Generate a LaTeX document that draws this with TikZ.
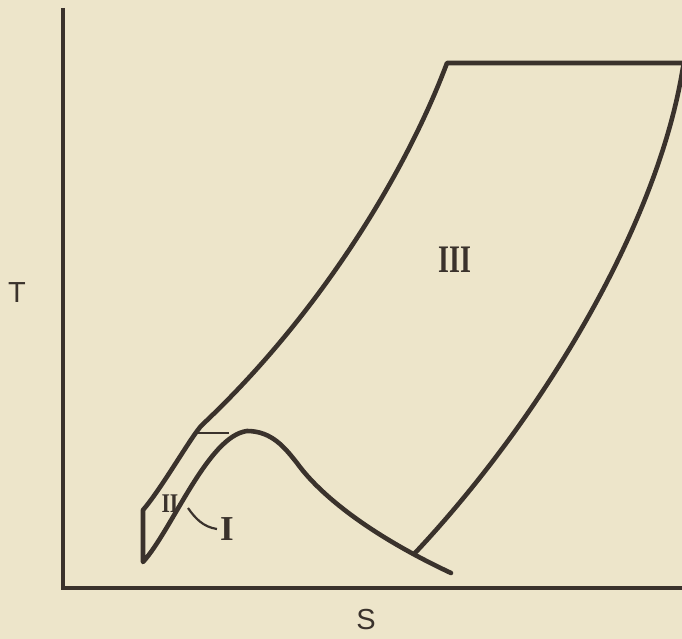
\documentclass[tikz,border=0pt]{standalone}
\usepackage{fontspec}
\setmainfont{Liberation Serif}
\setsansfont{Liberation Sans}
\usepackage{graphicx}
\definecolor{paper}{RGB}{237,229,202}
\definecolor{ink}{RGB}{58,50,44}

\begin{document}
\begin{tikzpicture}[
  x=1pt,y=-1pt,
  curve/.style={ink,line width=4.6pt,line join=round,line cap=round},
  axis/.style={ink,line width=3.6pt},
  thinline/.style={ink,line width=1.8pt},
  roman/.style={ink,font=\bfseries\fontsize{#1}{#1}\selectfont,inner sep=0pt},
  axlabel/.style={ink,font=\sffamily\fontsize{29}{29}\selectfont,inner sep=0pt}
]
\fill[paper] (0,0) rectangle (682,639);
\useasboundingbox (0,0) rectangle (682,639);

\coordinate (origin) at (63,588);
\coordinate (ytop) at (63,8);
\coordinate (xend) at (684,588);
\draw[axis] (ytop) -- (origin) -- (xend);

\coordinate (corner) at (447,63);
\coordinate (bend) at (202,425);
\coordinate (knee) at (143,510);
\coordinate (foot) at (143,562);
\coordinate (peak) at (247,431);
\coordinate (slope) at (297,463);
\coordinate (junction) at (415,553);
\coordinate (tail) at (451,573);
\coordinate (flashL) at (196,433);
\coordinate (flashR) at (229,433);
\coordinate (pointI) at (188,508);

\draw[curve] (686,63) -- (corner)
  .. controls (405,175) and (318,316) .. (bend)
  .. controls (192,435) and (162,488) .. (knee)
  -- (foot)
  .. controls (172,530) and (208,436) .. (peak)
  .. controls (272,431) and (285,448) .. (slope)
  .. controls (320,495) and (370,535) .. (tail);
\draw[curve] (684,62) -- (682,73) .. controls (655,230) and (540,420) .. (junction);
\draw[thinline] (flashL) -- (flashR);

\node[roman=39] (labIII) at (455,260) {\scalebox{0.72}[1]{III}};
\node[roman=27] (labII) at (170,504) {\scalebox{0.8}[1]{II}};
\node[roman=35,inner xsep=3pt] (labI) at (227,529) {I};
\node[axlabel] (labT) at (17,293) {T};
\node[axlabel] (labS) at (366,620) {S};

\draw[thinline,line width=2.2pt] (labI.west) .. controls (203,527) and (195,518) .. (pointI);
\end{tikzpicture}
\end{document}
